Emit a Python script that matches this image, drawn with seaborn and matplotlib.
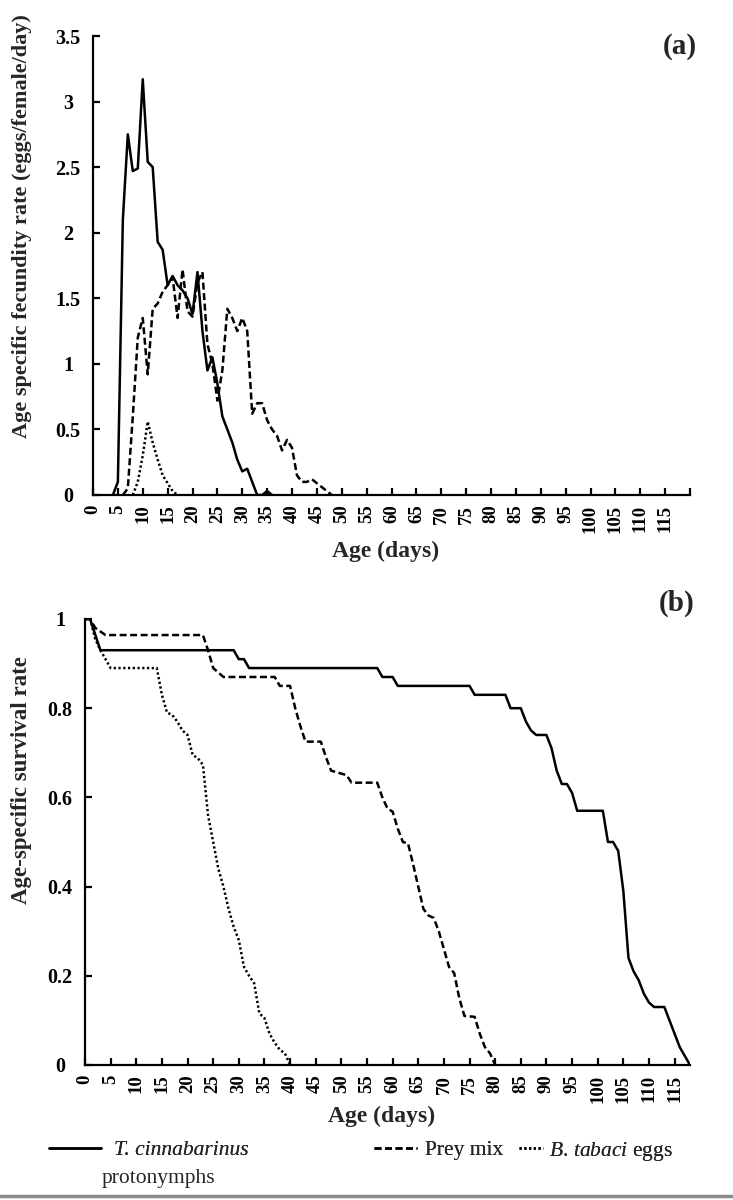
import numpy as np
import pandas as pd
import seaborn as sns
import matplotlib.pyplot as plt

# (a) age specific fecundity (eggs/female/day), one value per day of age
tc_fec_age = list(range(4, 37))
tc_fec = [0, 0.1, 2.1, 2.75, 2.47, 2.49, 3.17, 2.54, 2.5, 1.93, 1.87, 1.6, 1.67,
          1.6, 1.56, 1.5, 1.38, 1.7, 1.25, 0.95, 1.05, 0.85, 0.6, 0.5, 0.4, 0.27,
          0.18, 0.2, 0.1, 0, 0, 0.03, 0]
mix_fec_age = list(range(6, 49))
mix_fec = [0, 0.05, 0.6, 1.2, 1.35, 0.92, 1.42, 1.46, 1.55, 1.6, 1.66, 1.35, 1.72,
           1.4, 1.36, 1.62, 1.7, 1.15, 1.0, 0.72, 0.95, 1.42, 1.35, 1.25, 1.35,
           1.25, 0.62, 0.7, 0.7, 0.57, 0.5, 0.45, 0.34, 0.42, 0.36, 0.15, 0.1,
           0.1, 0.12, 0.09, 0.06, 0.03, 0]
bt_fec_age = list(range(8, 18))
bt_fec = [0, 0.1, 0.3, 0.56, 0.4, 0.27, 0.15, 0.09, 0.03, 0]

# (b) age-specific survival, corner points of each curve
tc_surv_age = [0, 1, 3, 29, 30, 31, 32, 57, 58, 60, 61, 75, 76, 82, 83, 85, 86, 87,
               88, 90, 91, 92, 93, 94, 95, 96, 101, 102, 103, 104, 105, 106, 107,
               108, 109, 110, 111, 113, 114, 115, 116, 117, 118]
tc_surv = [1, 1, 0.93, 0.93, 0.91, 0.91, 0.89, 0.89, 0.87, 0.87, 0.85, 0.85, 0.83,
           0.83, 0.80, 0.80, 0.77, 0.75, 0.74, 0.74, 0.71, 0.66, 0.63, 0.63, 0.61,
           0.57, 0.57, 0.50, 0.50, 0.48, 0.39, 0.24, 0.21, 0.19, 0.16, 0.14, 0.13,
           0.13, 0.10, 0.07, 0.04, 0.02, 0]
mix_surv_age = [0, 1, 2, 4, 23, 24, 25, 26, 27, 37, 38, 40, 41, 42, 43, 46, 47, 48,
                51, 52, 57, 58, 59, 60, 61, 62, 63, 64, 65, 66, 67, 68, 69, 70, 71,
                72, 73, 74, 76, 77, 78, 79, 80]
mix_surv = [1, 1, 0.98, 0.964, 0.964, 0.93, 0.89, 0.88, 0.87, 0.87, 0.85, 0.85,
            0.80, 0.76, 0.725, 0.725, 0.69, 0.66, 0.65, 0.633, 0.633, 0.60, 0.575,
            0.568, 0.53, 0.50, 0.497, 0.45, 0.40, 0.35, 0.335, 0.33, 0.30, 0.26,
            0.22, 0.206, 0.15, 0.11, 0.108, 0.07, 0.04, 0.026, 0]
bt_surv_age = [0, 1, 2, 3, 4, 5, 14, 15, 16, 17, 18, 19, 20, 21, 22, 23, 24, 25,
               26, 27, 28, 29, 30, 31, 32, 33, 34, 35, 36, 37, 38, 39, 40]
bt_surv = [1, 1, 0.955, 0.93, 0.91, 0.89, 0.89, 0.83, 0.79, 0.785, 0.77, 0.75,
           0.74, 0.695, 0.688, 0.673, 0.56, 0.50, 0.44, 0.40, 0.35, 0.31, 0.28,
           0.22, 0.20, 0.183, 0.116, 0.105, 0.07, 0.05, 0.034, 0.026, 0]

diets = ['tc', 'mix', 'bt']
dashes = {'tc': '', 'mix': (2.8, 1.4), 'bt': (0.9, 1.0)}


def long_df(pairs):
    frames = []
    for d, (age, val) in zip(diets, pairs):
        frames.append(pd.DataFrame({'age': age, 'value': val, 'diet': d}))
    return pd.concat(frames, ignore_index=True)


fec_df = long_df([(tc_fec_age, tc_fec), (mix_fec_age, mix_fec), (bt_fec_age, bt_fec)])
surv_df = long_df([(tc_surv_age, tc_surv), (mix_surv_age, mix_surv), (bt_surv_age, bt_surv)])

sns.set_theme(style='ticks')
plt.rcParams['font.family'] = ['Liberation Serif', 'DejaVu Serif']
plt.rcParams['mathtext.fontset'] = 'custom'
plt.rcParams['mathtext.rm'] = 'Liberation Serif'
plt.rcParams['mathtext.it'] = 'Liberation Serif:italic'

W, H = 733, 1200
fig = plt.figure(figsize=(W / 100, H / 100), dpi=100)
ax1 = fig.add_axes([93 / W, 1 - 495 / H, (690 - 93) / W, (495 - 36) / H])
ax2 = fig.add_axes([85 / W, 1 - 1065 / H, (690 - 85) / W, (1065 - 619) / H])

for ax, df in [(ax1, fec_df), (ax2, surv_df)]:
    sns.lineplot(data=df, x='age', y='value', style='diet', dashes=dashes,
                 color='black', linewidth=1.8, estimator=None, legend=False, ax=ax)
    for s in ['top', 'right']:
        ax.spines[s].set_visible(False)
    for s in ['left', 'bottom']:
        ax.spines[s].set_linewidth(1.6)
        ax.spines[s].set_color('black')
    ax.tick_params(direction='in', length=5, width=1.6, colors='black')
    ax.tick_params(axis='x', pad=7)
    ax.set_xlabel('Age (days)', fontsize=17, fontweight='bold')

ax1.set_xlim(0, 120)
ax1.set_ylim(0, 3.5)
ax1.set_xticks(range(0, 121, 5))
ax1.set_xticklabels([str(v) for v in range(0, 120, 5)] + [''],
                    rotation=90, fontsize=13.5, fontweight='bold')
ax1.set_yticks(np.arange(0, 3.6, 0.5))
ax1.set_yticklabels(['0', '0.5', '1', '1.5', '2', '2.5', '3', '3.5'],
                    fontsize=14.5, fontweight='bold', ha='center')
ax1.tick_params(axis='y', pad=18)
ax1.set_ylabel('Age specific fecundity rate (eggs/female/day)', fontsize=16,
               fontweight='bold')
ax1.yaxis.set_label_coords((32 - 93) / 597, (495 - 226) / 459)
ax1.xaxis.set_label_coords(0.49, (495 - 541) / 459)

ax2.set_xlim(0, 118)
ax2.set_ylim(0, 1)
ax2.set_xticks(range(0, 116, 5))
ax2.set_xticklabels([str(v) for v in range(0, 116, 5)],
                    rotation=90, fontsize=13.5, fontweight='bold')
ax2.set_yticks(np.arange(0, 1.01, 0.2))
ax2.set_yticklabels(['0', '0.2', '0.4', '0.6', '0.8', '1'],
                    fontsize=14.5, fontweight='bold', ha='center')
ax2.tick_params(axis='y', pad=18)
ax2.set_ylabel('Age-specific survival rate', fontsize=16.5, fontweight='bold')
ax2.yaxis.set_label_coords((32 - 85) / 605, (1065 - 780) / 446)
ax2.xaxis.set_label_coords(0.49, (1065 - 1106) / 446)

fig.text(697 / W, 1 - 46 / H, '(a)', fontsize=21, fontweight='bold', ha='right', va='center')
fig.text(695 / W, 1 - 603 / H, '(b)', fontsize=21, fontweight='bold', ha='right', va='center')

# legend: three separate pieces so the spacing matches the original
leg_y = 1 - 1140 / H
entries = [('T. cinnabarinus', '-', 49, 2.4, 0.6, 'italic'),
           ('Prey mix', (0, (2.8, 1.4)), 374, 2.0, 0.35, 'normal'),
           (r'$\mathit{B.\,tabaci}$ eggs', (0, (0.9, 1.0)), 519, 1.1, 0.3, 'normal')]
for label, ls, x0, hl, tp, fs in entries:
    h = plt.Line2D([], [], color='black', linewidth=1.8, linestyle=ls)
    leg = fig.legend([h], [label], loc='upper left', bbox_to_anchor=(x0 / W, leg_y),
                     frameon=False, prop={'size': 15.5, 'style': fs},
                     handlelength=hl, handletextpad=tp, borderpad=0, borderaxespad=0)
    fig.add_artist(leg)
fig.text(102 / W, 1 - 1178 / H, 'protonymphs', fontsize=15.5, ha='left', va='center')

fig.add_artist(plt.Line2D([0, 1], [1 - 1196 / H, 1 - 1196 / H], transform=fig.transFigure,
                          color='#8c8c8c', linewidth=2.5))

fig.savefig('out.png', dpi=100, facecolor='white')
